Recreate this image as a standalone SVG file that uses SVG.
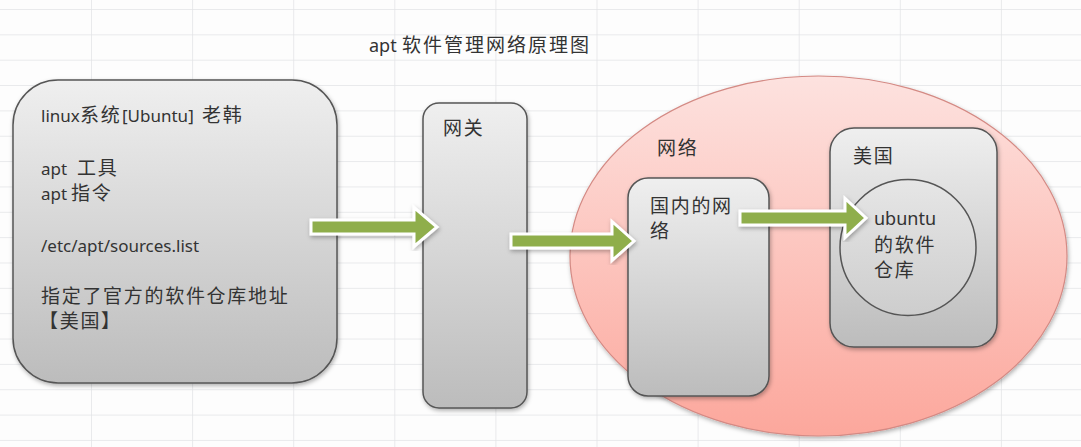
<svg xmlns="http://www.w3.org/2000/svg" width="1081" height="447" viewBox="0 0 1081 447">
<defs>
<linearGradient id="gBox" x1="0" y1="0" x2="0" y2="1">
<stop offset="0" stop-color="#efefef"/>
<stop offset="1" stop-color="#bcbcbc"/>
</linearGradient>
<linearGradient id="gCircle" x1="0" y1="0" x2="0" y2="1">
<stop offset="0" stop-color="#e6e6e6"/>
<stop offset="1" stop-color="#cdcdcd"/>
</linearGradient>
<linearGradient id="gPink" x1="0" y1="0" x2="0" y2="1">
<stop offset="0" stop-color="#fde2df"/>
<stop offset="1" stop-color="#fca79c"/>
</linearGradient>
<filter id="shadow" x="-10%" y="-10%" width="120%" height="120%">
<feDropShadow dx="1" dy="2" stdDeviation="2" flood-color="#000" flood-opacity="0.3"/>
</filter>
<pattern id="grid" x="0" y="0" width="101.1" height="25.35" patternUnits="userSpaceOnUse" patternTransform="translate(91 9)">
<path d="M0 0 V25.35 M0 0 H101.1" stroke="#e2e4e6" stroke-width="1.5" fill="none"/>
</pattern>
</defs>
<style>
text { font-family: "Noto Sans", "Noto Sans CJK SC", sans-serif; fill: #333; font-size: 17px; }
.c { font-family: "Noto Sans CJK SC", sans-serif; font-size: 19px; letter-spacing: 1.7px; }
.tc { font-family: "Noto Sans CJK SC", sans-serif; font-size: 19px; letter-spacing: 2px; }
.box { fill: url(#gBox); stroke: #555; stroke-width: 1.5; filter: url(#shadow); }
.arrow { fill: #8fae4c; stroke: #fff; stroke-width: 3; stroke-linejoin: miter; filter: url(#shadow); }
</style>
<rect width="1081" height="447" fill="#fdfdfd"/>
<rect width="1081" height="447" fill="url(#grid)"/>

<text x="369" y="52" style="font-size:18px">apt <tspan class="tc" x="402">软件管理网络原理图</tspan></text>

<g id="linux">
<rect class="box" x="13" y="80" width="324" height="303" rx="45" ry="45"/>
<text x="41" y="122">linux<tspan class="c" x="80">系统</tspan><tspan x="122">[Ubuntu]</tspan><tspan class="c" x="202">老韩</tspan></text>
<text x="41" y="175">apt <tspan class="c" x="77">工具</tspan></text>
<text x="41" y="200">apt <tspan class="c" x="71">指令</tspan></text>
<text x="41" y="252">/etc/apt/sources.list</text>
<text class="c" x="41" y="303">指定了官方的软件仓库地址</text>
<text class="c" x="39" y="328">【美国】</text>
</g>

<g id="gateway">
<rect class="box" x="423" y="103" width="104" height="305" rx="16" ry="16"/>
<text class="c" x="443" y="135">网关</text>
</g>

<g id="network">
<ellipse cx="818.5" cy="256" rx="248.5" ry="180" fill="url(#gPink)" stroke="#d48a84" stroke-width="1.2" filter="url(#shadow)"/>
<text class="c" x="657" y="155">网络</text>
</g>

<g id="domestic">
<rect class="box" x="628" y="178" width="141" height="218" rx="20" ry="20"/>
<text class="c" x="650" y="213">国内的网</text>
<text class="c" x="650" y="238">络</text>
</g>

<g id="usa">
<rect class="box" x="830" y="128" width="167" height="219" rx="24" ry="24"/>
<text class="c" x="853" y="163">美国</text>
</g>

<g id="repo">
<circle cx="908" cy="247.5" r="68" fill="url(#gCircle)" stroke="#555" stroke-width="1.5"/>
<text x="874" y="225" style="font-size:18px">ubuntu</text>
<text class="c" x="874" y="252">的软件</text>
<text class="c" x="874" y="277">仓库</text>
</g>

<g id="connectors">
<path class="arrow" d="M311 220 H414 V207.5 L437 227 L414 246.5 V234 H311 Z"/>
<path class="arrow" d="M511 234 H612 V221.5 L634 241 L612 260.5 V248 H511 Z"/>
<path class="arrow" d="M740 211 H845 V198.5 L866 218 L845 237.5 V225 H740 Z"/>
</g>
</svg>
